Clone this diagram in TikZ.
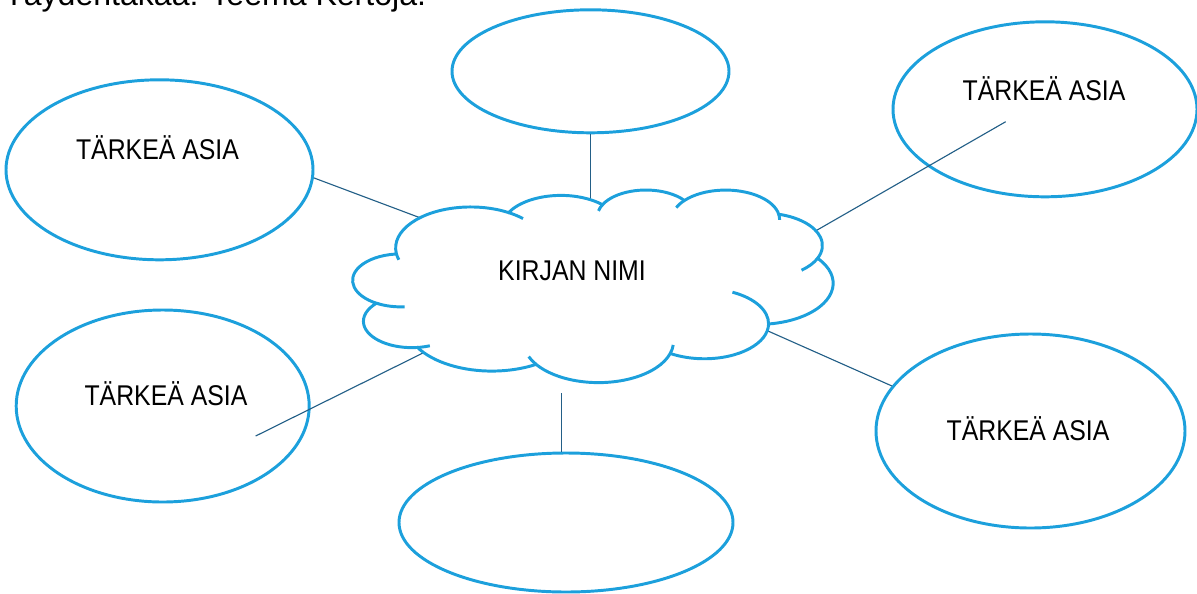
\documentclass[tikz,border=0pt]{standalone}
\usepackage{fontspec}
\setmainfont{Liberation Sans}
\newfontfamily\lblfont{Liberation Sans}[FakeStretch=0.87]
\usetikzlibrary{shapes.geometric}
\definecolor{bubbleblue}{RGB}{28, 160, 220}
\definecolor{linkblue}{RGB}{35, 95, 135}

\tikzset{
    bubble/.style 2 args={ellipse, draw=bubbleblue, line width=2.1pt,
        minimum width=#1*0.025cm, minimum height=#2*0.025cm, inner sep=0pt},
    cloudline/.style={draw=bubbleblue, line width=2.1pt},
    link/.style={draw=linkblue, line width=0.8pt},
    lbl/.style={anchor=base, inner sep=0pt, font=\lblfont\fontsize{20.3}{24}\selectfont}
}

\begin{document}
\begin{tikzpicture}[x=0.025cm, y=-0.025cm]

        % one unit is one pixel of the page, y goes down
        \useasboundingbox (0,0) rectangle (1197,593);

        % the title, cut off by the top of the page
        \node[anchor=base west, inner sep=0pt, font=\fontsize{22.8}{26}\selectfont] (task) at (4,5)
            {Täydentäkää: Teema Kertoja.};

        % the six bubbles round the cloud
        \node[bubble={277}{123}] (top) at (590.5,71.3) {};
        \node[bubble={307}{180}] (tl) at (159.5,169.8) {};
        \node[bubble={293}{192}] (bl) at (162.7,406) {};
        \node[bubble={304}{175}] (tr) at (1045,109.3) {};
        \node[bubble={309}{194}] (br) at (1030.5,431) {};
        \node[bubble={334}{139}] (bot) at (566,522.5) {};

        % free ends of the connectors (on the cloud, or inside a bubble)
        \coordinate (c-top) at (590.5,212);
        \coordinate (c-tl) at (422,218.5);
        \coordinate (c-tr) at (812,233);
        \coordinate (tr-in) at (1005.7,121.7);
        \coordinate (c-bl) at (432,348.5);
        \coordinate (bl-in) at (255.7,436);
        \coordinate (c-br) at (768,331);
        \coordinate (c-bot) at (561.7,393.3);

        \draw[link] (top.south) -- (c-top);
        \draw[link] (tl.-3) -- (c-tl);
        \draw[link] (tr-in) -- (c-tr);
        \draw[link] (bl-in) -- (c-bl);
        \draw[link] (c-br) -- (br.162.9);
        \draw[link] (c-bot) -- (c-bot |- bot.north);

        % the cloud: eleven puffs, each an arc of an ellipse
        % the junctions are kept as (j1) ... (j12)
        \begin{scope}[shift={(353,189.4)}, x=0.0027778cm, y=-0.0011165cm]
            \draw[cloudline, fill=white] (390,1437) coordinate (j1)
                \foreach \a/\b/\rx/\ry [count=\i from 2] in {
                        172.25/300.37/675.3/919, -152.03/-45.46/533.3/726.7,
                        -153.50/-37.32/436.5/594.5, -139.71/-10.21/485.7/659.5,
                        -74.77/23.21/533.3/727.3, -37.51/81.86/677.5/922,
                        0.46/121.98/578.5/786.7, 16.85/146.22/675.2/921.5,
                        58.99/150.20/772/1054.3, 83.31/223.11/436/591.8,
                        120.35/264.11/434.5/594.5} {
                    arc[start angle=\a, end angle=\b, x radius=\rx, y radius=\ry] coordinate (j\i)
                } -- cycle;

            % the short hooks where one puff runs on into the next
            \foreach \j/\a/\b/\rx/\ry in {
                    11/120.35/85.55/434.5/594.5, 10/83.31/68.23/436/591.8,
                    9/146.22/158.47/675.2/921.5, 8/16.85/4.74/675.2/921.5,
                    7/0.46/-64.03/578.5/786.7, 6/23.21/49.65/533.3/727.3,
                    5/-10.21/0.82/485.7/659.5, 4/-139.71/-156.29/485.7/659.5,
                    3/-153.50/-167.72/436.5/594.5, 2/-59.63/-45.75/675.3/919,
                    1/172.25/163.19/675.3/919} {
                \draw[cloudline] (j\j) arc[start angle=\a, end angle=\b, x radius=\rx, y radius=\ry];
            }
        \end{scope}

        % texts
        \node[lbl] (book) at (572,280) {KIRJAN NIMI};
        \node[lbl] (tl-txt) at (157.5,159) {TÄRKEÄ ASIA};
        \node[lbl] (bl-txt) at (166,405.7) {TÄRKEÄ ASIA};
        \node[lbl] (tr-txt) at (1044,100) {TÄRKEÄ ASIA};
        \node[lbl] (br-txt) at (1028,440.7) {TÄRKEÄ ASIA};

    \end{tikzpicture}
\end{document}
